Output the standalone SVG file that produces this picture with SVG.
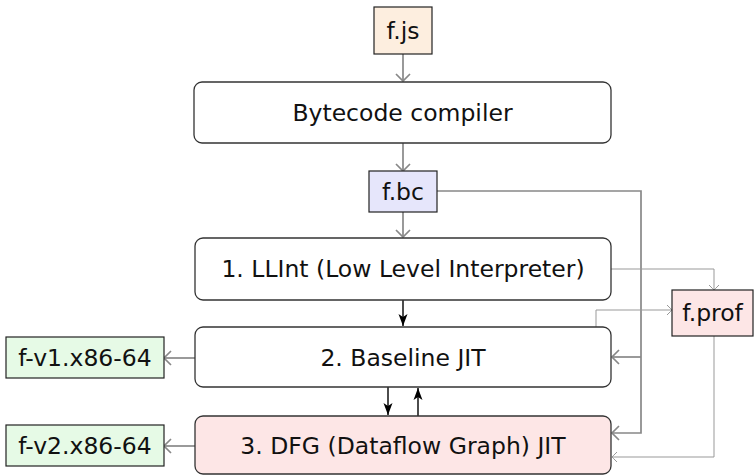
<svg xmlns="http://www.w3.org/2000/svg" width="755" height="475" viewBox="0 0 755 475">
<defs>
<style>
text{font-family:"DejaVu Sans","Liberation Sans",sans-serif;font-size:23.5px;fill:#111;text-anchor:middle}
.rb{fill:#fff;stroke:#333;stroke-width:1.3}
.sq{stroke:#222;stroke-width:1.2}
.g{fill:none;stroke:#888;stroke-width:1.7}
.gt{fill:none;stroke:#999;stroke-width:1}
.k{fill:none;stroke:#000;stroke-width:1.4}
</style>
<marker id="ag" markerUnits="userSpaceOnUse" viewBox="-10 -10 12 20" refX="0" refY="0" markerWidth="12" markerHeight="20" orient="auto">
<path d="M-7,-7 Q-1.5,-1.5 0,0 Q-1.5,1.5 -7,7" fill="none" stroke="#888" stroke-width="1.7"/>
</marker>
<marker id="at" markerUnits="userSpaceOnUse" viewBox="-10 -10 12 20" refX="0" refY="0" markerWidth="12" markerHeight="20" orient="auto">
<path d="M-5,-5 Q-1,-1 0,0 Q-1,1 -5,5" fill="none" stroke="#999" stroke-width="1"/>
</marker>
<marker id="ak" markerUnits="userSpaceOnUse" viewBox="-14 -7 16 14" refX="0" refY="0" markerWidth="16" markerHeight="14" orient="auto">
<path d="M0,0 L-12,-4.5 L-9,0 L-12,4.5 Z" fill="#000"/>
</marker>
</defs>

<g id="connectors">
<line class="g" x1="403" y1="54" x2="403" y2="81" marker-end="url(#ag)"/>
<line class="g" x1="403" y1="143" x2="403" y2="171" marker-end="url(#ag)"/>
<line class="g" x1="403" y1="212" x2="403" y2="237" marker-end="url(#ag)"/>
<line class="k" x1="403" y1="300" x2="403" y2="326" marker-end="url(#ak)"/>
<line class="k" x1="388" y1="387" x2="388" y2="415" marker-end="url(#ak)"/>
<line class="k" x1="418" y1="416" x2="418" y2="388" marker-end="url(#ak)"/>
<polyline class="g" points="437,191 641,191 641,433 612,433" marker-end="url(#ag)"/>
<polyline class="g" points="641,357 612,357" marker-end="url(#ag)"/>
<polyline class="gt" points="611,269 714,269 714,290" marker-end="url(#at)"/>
<polyline class="gt" points="596,327 596,310 672,310" marker-end="url(#at)"/>
<polyline class="gt" points="714,336 714,457 612,457" marker-end="url(#at)"/>
<line class="g" x1="195" y1="358" x2="164" y2="358" marker-end="url(#ag)"/>
<line class="g" x1="195" y1="446" x2="164" y2="446" marker-end="url(#ag)"/>
</g>

<g id="fjs">
<rect class="sq" x="374" y="7" width="58" height="47" fill="#fdeedf"/>
<text x="403" y="39">f.js</text>
</g>
<g id="bytecode">
<rect class="rb" x="194" y="82" width="417" height="61" rx="8"/>
<text x="402.5" y="121">Bytecode compiler</text>
</g>
<g id="fbc">
<rect class="sq" x="369" y="171" width="68" height="41" fill="#e6e6fb"/>
<text x="403" y="200">f.bc</text>
</g>
<g id="llint">
<rect class="rb" x="195" y="238" width="416" height="62" rx="8"/>
<text x="403" y="277">1. LLInt (Low Level Interpreter)</text>
</g>
<g id="baseline">
<rect class="rb" x="195" y="327" width="416" height="60" rx="8"/>
<text x="403" y="366">2. Baseline JIT</text>
</g>
<g id="dfg">
<rect class="rb" x="195" y="416" width="416" height="58" rx="8" fill="#fde6e6" style="fill:#fde6e6"/>
<text x="403" y="454">3. DFG (Dataflow Graph) JIT</text>
</g>
<g id="fprof">
<rect class="sq" x="672" y="290" width="81" height="46" fill="#fde6e6"/>
<text x="712.5" y="321">f.prof</text>
</g>
<g id="fv1">
<rect class="sq" x="6" y="337" width="158" height="41" fill="#e6fae6"/>
<text x="85" y="366">f-v1.x86-64</text>
</g>
<g id="fv2">
<rect class="sq" x="6" y="425" width="158" height="41" fill="#e6fae6"/>
<text x="85" y="454">f-v2.x86-64</text>
</g>
</svg>
